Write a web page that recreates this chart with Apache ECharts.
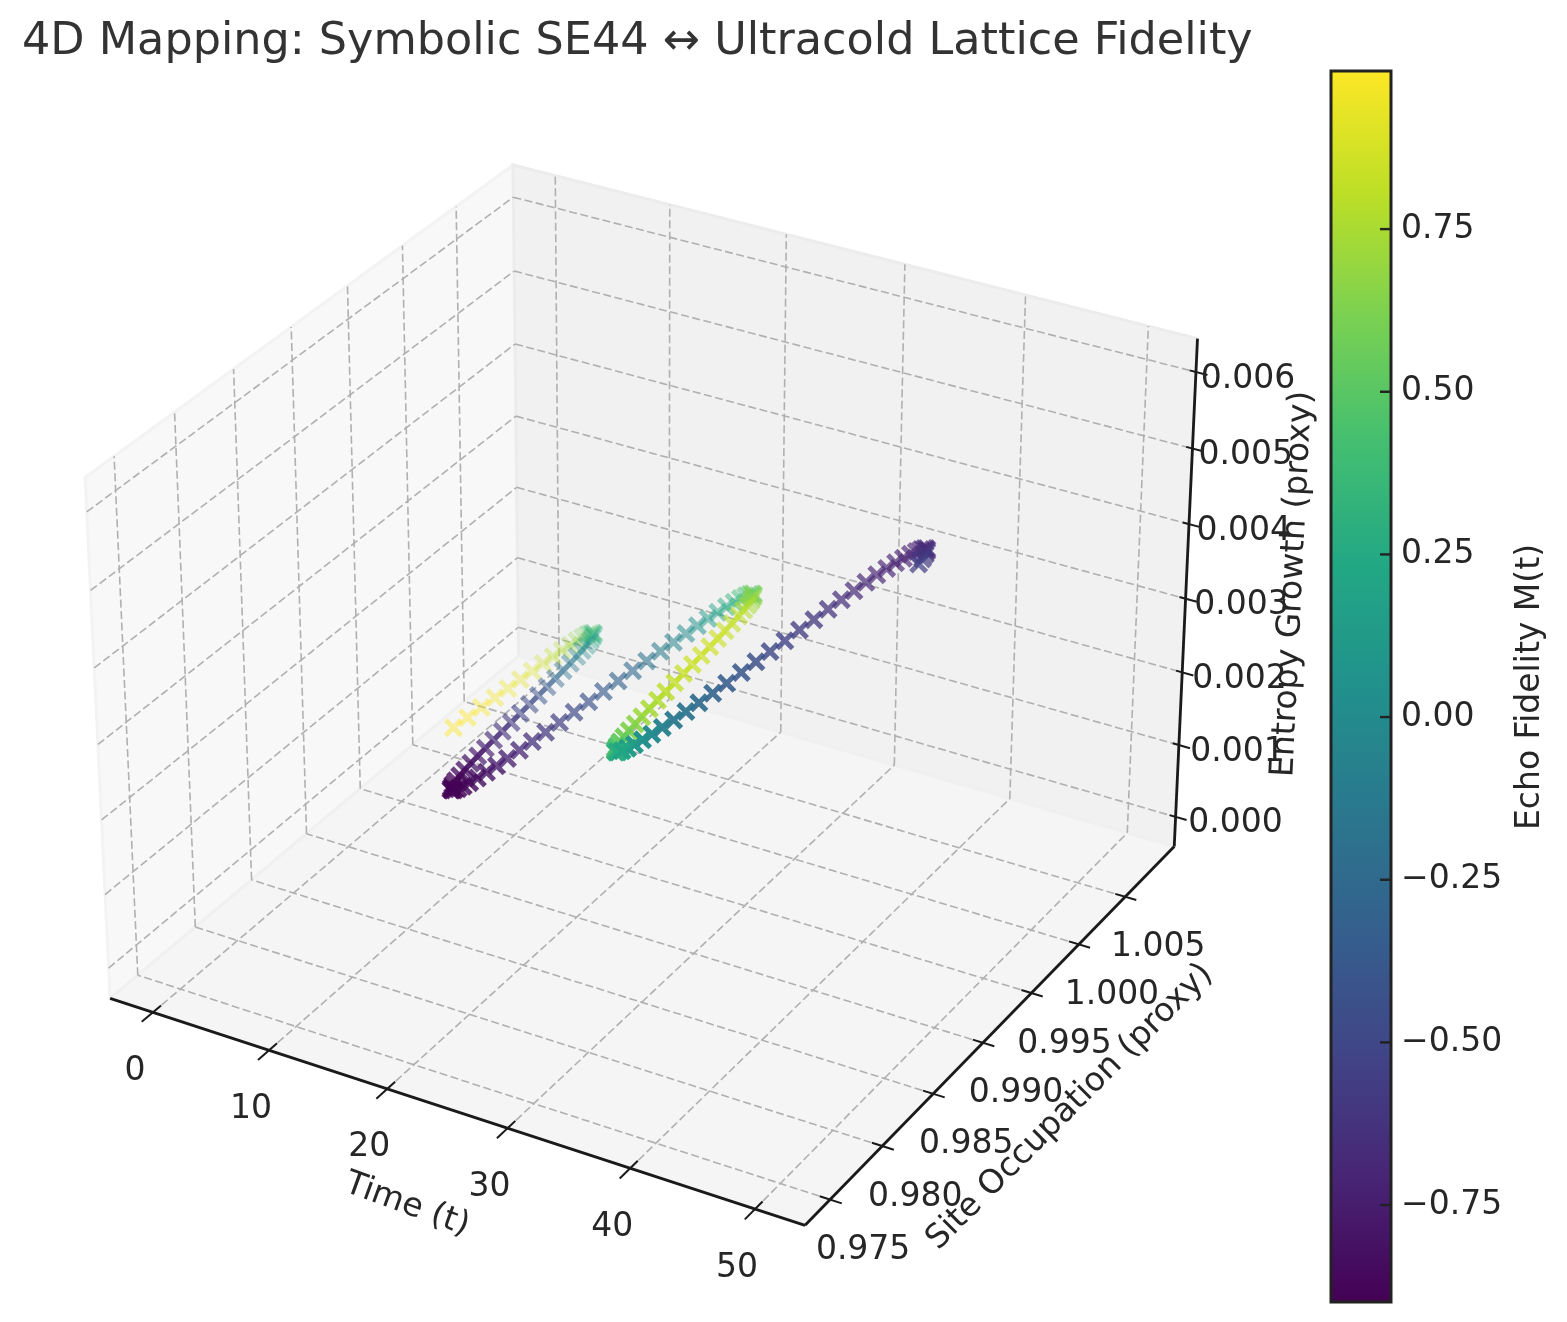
<!DOCTYPE html>
<html>
<head>
<meta charset="utf-8">
<style>html,body{margin:0;padding:0;background:#fff}#c{width:1567px;height:1322px}</style>
<script src="https://cdn.jsdelivr.net/npm/echarts@6/dist/echarts.min.js"></script>
</head>
<body>
<div id="c"></div>
<script>
const titleText = '4D Mapping: Symbolic SE44 \u2194 Ultracold Lattice Fidelity';
const timeTicks = [0,10,20,30,40,50];
const occTicks = [0.975,0.980,0.985,0.990,0.995,1.000,1.005];
const entTicks = [0,0.001,0.002,0.003,0.004,0.005,0.006];
const cbarTicks = [0.75,0.5,0.25,0,-0.25,-0.5,-0.75];
const cbarRange = [-0.899,0.993];
const timeLim = [-3.73,53.95];
const occLim = [0.97264,1.01042];
const entLim = [-0.000416,0.00640];
const viridis = ['#440154','#482475','#414487','#355f8d','#2a788e','#21918c','#22a884','#44bf70','#7ad151','#bddf26','#fde725'];

const time = [0,0.25,0.5,0.75,1,1.25,1.5,1.75,2,2.25,2.5,2.75,3,3.25,3.5,3.75,4,4.25,4.5,4.75,5,5.25,5.5,5.75,6,6.25,6.5,6.75,7,7.25,7.5,7.75,8,8.25,8.5,8.75,9,9.25,9.5,9.75,10,10.25,10.5,10.75,11,11.25,11.5,11.75,12,12.25,12.5,12.75,13,13.25,13.5,13.75,14,14.25,14.5,14.75,15,15.25,15.5,15.75,16,16.25,16.5,16.75,17,17.25,17.5,17.75,18,18.25,18.5,18.75,19,19.25,19.5,19.75,20,20.25,20.5,20.75,21,21.25,21.5,21.75,22,22.25,22.5,22.75,23,23.25,23.5,23.75,24,24.25,24.5,24.75,25,25.25,25.5,25.75,26,26.25,26.5,26.75,27,27.25,27.5,27.75,28,28.25,28.5,28.75,29,29.25,29.5,29.75,30,30.25,30.5,30.75,31,31.25,31.5,31.75,32,32.25,32.5,32.75,33,33.25,33.5,33.75];
const occupation = [1.00000,1.00109,1.00218,1.00323,1.00424,1.00520,1.00610,1.00691,1.00763,1.00827,1.00879,1.00919,1.00948,1.00966,1.00969,1.00967,1.00951,1.00923,1.00883,1.00832,1.00769,1.00696,1.00615,1.00523,1.00425,1.00321,1.00212,1.00099,0.99985,0.99869,0.99754,0.99642,0.99532,0.99427,0.99329,0.99237,0.99153,0.99079,0.99014,0.98961,0.98921,0.98891,0.98875,0.98870,0.98879,0.98900,0.98933,0.98978,0.99036,0.99103,0.99179,0.99265,0.99359,0.99459,0.99564,0.99677,0.99791,0.99906,1.00022,1.00137,1.00247,1.00355,1.00457,1.00553,1.00641,1.00720,1.00790,1.00849,1.00897,1.00934,1.00958,1.00969,1.00966,1.00951,1.00922,1.00886,1.00836,1.00775,1.00705,1.00626,1.00526,1.00428,1.00325,1.00217,1.00102,0.99986,0.99870,0.99754,0.99639,0.99531,0.99424,0.99323,0.99232,0.99146,0.99067,0.99001,0.98946,0.98904,0.98872,0.98852,0.98845,0.98854,0.98878,0.98914,0.98962,0.99022,0.99093,0.99173,0.99262,0.99358,0.99463,0.99570,0.99684,0.99799,0.99909,1.00027,1.00144,1.00259,1.00373,1.00478,1.00577,1.00669,1.00751,1.00823,1.00885,1.00936,1.00978,1.01008,1.01025,1.01028,1.01020,1.00996,1.00963,1.00915,1.00856,1.00784];
const entropy = [0,0.000021,0.000042,0.000064,0.000085,0.000107,0.000129,0.000152,0.000175,0.000199,0.000223,0.000248,0.000274,0.000300,0.000327,0.000348,0.000370,0.000393,0.000416,0.000440,0.000464,0.000490,0.000515,0.000542,0.000568,0.000595,0.000622,0.000650,0.000677,0.000705,0.000732,0.000760,0.000787,0.000814,0.000841,0.000867,0.000893,0.000918,0.000943,0.000967,0.000990,0.001013,0.001035,0.001056,0.001077,0.001096,0.001115,0.001134,0.001152,0.001169,0.001185,0.001201,0.001217,0.001232,0.001247,0.001262,0.001276,0.001291,0.001305,0.001320,0.001334,0.001349,0.001364,0.001380,0.001396,0.001412,0.001429,0.001447,0.001465,0.001484,0.001504,0.001524,0.001546,0.001569,0.001593,0.001617,0.001641,0.001667,0.001693,0.001719,0.001747,0.001774,0.001802,0.001830,0.001859,0.001888,0.001916,0.001945,0.001973,0.002001,0.002029,0.002057,0.002084,0.002111,0.002138,0.002164,0.002188,0.002213,0.002237,0.002260,0.002282,0.002299,0.002315,0.002331,0.002346,0.002360,0.002374,0.002386,0.002400,0.002411,0.002423,0.002439,0.002456,0.002472,0.002489,0.002504,0.002521,0.002536,0.002553,0.002569,0.002586,0.002603,0.002622,0.002635,0.002650,0.002664,0.002680,0.002695,0.002712,0.002733,0.002755,0.002777,0.002800,0.002824,0.002848,0.002873];
const fidelity = [0.993,0.990,0.984,0.967,0.946,0.919,0.887,0.850,0.809,0.763,0.714,0.660,0.603,0.543,0.480,0.415,0.348,0.279,0.209,0.139,0.067,-0.004,-0.075,-0.145,-0.214,-0.281,-0.347,-0.410,-0.471,-0.530,-0.583,-0.634,-0.681,-0.724,-0.762,-0.796,-0.826,-0.852,-0.871,-0.886,-0.896,-0.899,-0.899,-0.895,-0.885,-0.868,-0.849,-0.823,-0.795,-0.760,-0.724,-0.683,-0.637,-0.590,-0.536,-0.484,-0.426,-0.368,-0.307,-0.245,-0.181,-0.117,-0.053,0.011,0.075,0.138,0.200,0.260,0.319,0.375,0.430,0.482,0.530,0.575,0.618,0.675,0.712,0.746,0.775,0.800,0.820,0.835,0.846,0.851,0.851,0.845,0.834,0.819,0.798,0.772,0.742,0.708,0.668,0.625,0.578,0.530,0.479,0.427,0.373,0.319,0.270,0.208,0.151,0.093,0.042,-0.015,-0.075,-0.132,-0.186,-0.241,-0.293,-0.344,-0.392,-0.440,-0.484,-0.525,-0.558,-0.589,-0.622,-0.646,-0.675,-0.689,-0.706,-0.718,-0.724,-0.728,-0.729,-0.726,-0.715,-0.703,-0.684,-0.664,-0.639,-0.611,-0.579,-0.545];

// mplot3d style view: azimuth -60, elevation 30, camera distance 10
const BOX = [1.19,1.19,0.8875], HALF=[0.595,0.595,0.4465], SCALE = 6690, CX = 652, CY = 668;
const U = [0.866,0.5,0], V = [-0.25,0.433,0.866], N = [0.433,-0.75,0.5];
const lims = [timeLim,occLim,[entLim[0],entLim[0]+(entLim[1]-entLim[0])*0.8875/0.8833]];
function boxDelta(p){ return p.map((v,k)=>(v-lims[k][0])/(lims[k][1]-lims[k][0])*BOX[k]-HALF[k]); }
const dot=(a,b)=>a[0]*b[0]+a[1]*b[1]+a[2]*b[2];
function depth(p){ return dot(boxDelta(p),N); }
function project(p){
  const d=boxDelta(p), w=10-dot(d,N);
  return [CX+SCALE*dot(d,U)/w, CY-SCALE*dot(d,V)/w];
}
const [t0,t1]=timeLim,[y0,y1]=occLim,[z0,z1]=lims[2];

const panes=[
 {pts:[[t0,y0,z0],[t0,y1,z0],[t0,y1,z1],[t0,y0,z1]],fill:'#f8f8f8',edge:'#f3f3f3'},
 {pts:[[t0,y1,z0],[t1,y1,z0],[t1,y1,z1],[t0,y1,z1]],fill:'#f1f1f1',edge:'#ececec'},
 {pts:[[t0,y0,z0],[t1,y0,z0],[t1,y1,z0],[t0,y1,z0]],fill:'#f5f5f5',edge:'#f0f0f0'}
];
const gridSegs=[];
timeTicks.forEach(t=>{gridSegs.push([[t,y0,z0],[t,y1,z0]],[[t,y1,z0],[t,y1,z1]]);});
occTicks.forEach(y=>{gridSegs.push([[t1,y,z0],[t0,y,z0]],[[t0,y,z0],[t0,y,z1]]);});
entTicks.forEach(z=>{gridSegs.push([[t0,y0,z],[t0,y1,z]],[[t0,y1,z],[t1,y1,z]]);});

const dT=(t1-t0)/BOX[0], dY=(y1-y0)/BOX[1];
const tickSegs=[];
timeTicks.forEach(t=>tickSegs.push([[t,y0+0.022*dY,z0],[t,y0-0.03*dY,z0]]));
occTicks.forEach(y=>tickSegs.push([[t1-0.017*dT,y,z0],[t1+0.019*dT,y,z0]]));
entTicks.forEach(z=>tickSegs.push([[t1-0.0105*dT,y1,z],[t1+0.019*dT,y1,z]]));
const axisSegs=[[[t0,y0,z0],[t1,y0,z0]],[[t1,y0,z0],[t1,y1,z0]],[[t1,y1,z0],[t1,y1,z1]]];

const segSeries=(segs,stroke,width,dash)=>({
  type:'custom',xAxisIndex:0,yAxisIndex:0,silent:true,clip:false,
  data:segs.map((s,i)=>[i]),
  renderItem:(params,api)=>{
    const s=segs[api.value(0)], a=api.coord(project(s[0])), b=api.coord(project(s[1]));
    return {type:'line',shape:{x1:a[0],y1:a[1],x2:b[0],y2:b[1]},style:{stroke,lineWidth:width,lineDash:dash||null,lineCap:'butt',fill:null}};
  }
});

const fmtCbar=v=>Number(v).toFixed(2).replace('-','\u2212');
const labelFont={fontFamily:'DejaVu Sans',color:'#262626'};
const textItems=[];
function addText(pos,text,fontSize,rotate){
  textItems.push({value:pos,label:{show:true,position:'inside',formatter:()=>text,fontSize,rotate:rotate||0,align:'center',verticalAlign:'middle',...labelFont}});
}
timeTicks.forEach(t=>{const p=project([t,y0,z0]);addText([p[0]-18,p[1]+59],String(t),33);});
occTicks.forEach(y=>{const p=project([t1,y,z0]);addText([p[0]+33,p[1]+51],y.toFixed(3),33);});
entTicks.forEach(z=>{const p=project([t1,y1,z]);addText([p[0]+60-8*z/0.006,p[1]+7],z.toFixed(3),33);});
addText([407,1205],'Time (t)',33,-20);
addText([1070,1107],'Site Occupation (proxy)',33,45);
addText([1293,584],'Entropy Growth (proxy)',33,87.2);
addText([1530,687],'Echo Fidelity M(t)',33,90);

const depths=time.map((t,i)=>depth([t,occupation[i],entropy[i]]));
const dMin=Math.min(...depths), dMax=Math.max(...depths);
const order=time.map((_,i)=>i).sort((a,b)=>depths[a]-depths[b]);
const scatterData=order.map(i=>{
  const p=project([time[i],occupation[i],entropy[i]]);
  const alpha=1-0.7*(dMax-depths[i])/(dMax-dMin);
  return {value:[p[0],p[1],fidelity[i]],itemStyle:{opacity:alpha}};
});
const xPath='path://M0 2.8L2.8 0L7.5 4.7L12.2 0L15 2.8L10.3 7.5L15 12.2L12.2 15L7.5 10.3L2.8 15L0 12.2L4.7 7.5Z';

const chart=echarts.init(document.getElementById('c'),null,{renderer:'canvas',width:1567,height:1322});
chart.setOption({
  animation:false,backgroundColor:'#fff',
  title:{text:titleText,left:17,top:15,textStyle:{fontFamily:'DejaVu Sans',fontSize:44.5,fontWeight:'normal',color:'#333333'}},
  grid:[{left:0,top:0,width:1567,height:1322},{left:1331,top:71,width:60,height:1231}],
  xAxis:[{type:'value',gridIndex:0,min:0,max:1567,show:false},{type:'value',gridIndex:1,min:0,max:1,show:false}],
  yAxis:[{type:'value',gridIndex:0,min:0,max:1322,inverse:true,show:false},
    {type:'value',gridIndex:1,position:'right',min:cbarRange[0],max:cbarRange[1],z:6,
     axisLine:{show:false},splitLine:{show:false},axisTick:{show:false},
     axisLabel:{show:true,inside:false,margin:10,customValues:cbarTicks,formatter:fmtCbar,fontSize:33,fontFamily:'DejaVu Sans',color:'#262626'}}],
  visualMap:{show:false,type:'continuous',seriesIndex:4,dimension:2,min:cbarRange[0],max:cbarRange[1],inRange:{color:viridis}},
  series:[
    {type:'custom',xAxisIndex:0,yAxisIndex:0,silent:true,clip:false,data:panes.map((_,i)=>[i]),
     renderItem:(params,api)=>{const q=panes[api.value(0)];
       return {type:'polygon',shape:{points:q.pts.map(p=>api.coord(project(p)))},style:{fill:q.fill,stroke:q.edge,lineWidth:3}};}},
    segSeries(gridSegs,'#b0b0b0',1.6,[8,3.5]),
    segSeries(axisSegs,'#1a1a1a',2.8),
    segSeries(tickSegs,'#1a1a1a',2),
    {type:'scatter',xAxisIndex:0,yAxisIndex:0,symbol:xPath,symbolSize:19,silent:true,clip:false,data:scatterData,encode:{x:0,y:1}},
    {type:'custom',xAxisIndex:1,yAxisIndex:1,silent:true,clip:false,data:[[0,cbarRange[0],1,cbarRange[1]]],
     renderItem:(params,api)=>{
       const a=api.coord([api.value(0),api.value(3)]), b=api.coord([api.value(2),api.value(1)]);
       const stops=viridis.map((c,i)=>({offset:1-i/(viridis.length-1),color:c})).reverse();
       return {type:'rect',shape:{x:a[0],y:a[1],width:b[0]-a[0],height:b[1]-a[1]},
         style:{fill:new echarts.graphic.LinearGradient(0,0,0,1,stops),stroke:'#222',lineWidth:3}};}},
    {type:'custom',xAxisIndex:1,yAxisIndex:1,silent:true,clip:false,z:6,data:cbarTicks.map(v=>[v]),
     renderItem:(params,api)=>{
       const a=api.coord([1,api.value(0)]);
       return {type:'line',shape:{x1:a[0]-11,y1:a[1],x2:a[0],y2:a[1]},style:{stroke:'#222',lineWidth:2.4,fill:null}};}},
    {type:'scatter',xAxisIndex:0,yAxisIndex:0,symbolSize:1,itemStyle:{color:'rgba(0,0,0,0)',opacity:1},silent:true,clip:false,z:10,data:textItems}
  ]
});
</script>
</body>
</html>
